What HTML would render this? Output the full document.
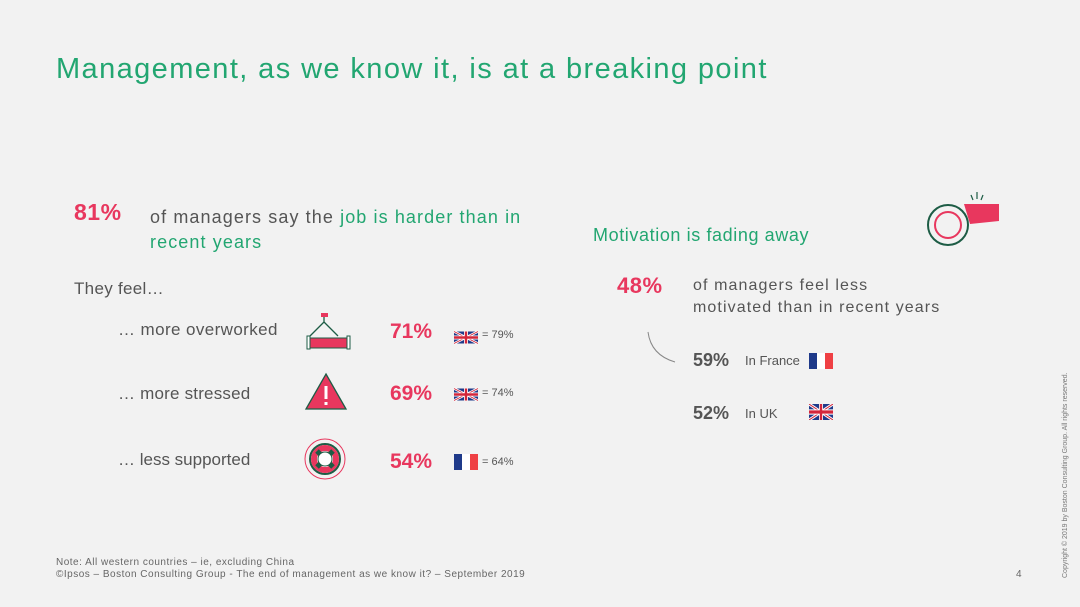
<!DOCTYPE html>
<html><head><meta charset="utf-8"><style>
body{margin:0;background:#f2f2f2;}
#s{position:relative;width:1080px;height:607px;overflow:hidden;background:#f2f2f2;font-family:"Liberation Sans",sans-serif;color:#555;}
.a{position:absolute;white-space:nowrap;}
.g{color:#22a671}.r{color:#e8375e;font-weight:bold}
</style></head><body>
<div id="s">
<div class="a g" style="left:56px;top:53px;font-size:29px;letter-spacing:1.4px;">Management, as we know it, is at a breaking point</div>

<div class="a r" style="left:74px;top:199px;font-size:23px;letter-spacing:0.5px;">81%</div>
<div class="a" style="left:150px;top:205px;font-size:18px;line-height:25px;letter-spacing:1.1px;">of managers say the <span class="g">job is harder than in</span><br><span class="g">recent years</span></div>
<div class="a" style="left:74px;top:279px;font-size:17px;letter-spacing:0.3px;">They feel…</div>

<div class="a" style="left:118px;top:320px;font-size:17px;letter-spacing:0.4px;">… more overworked</div>
<div class="a" style="left:118px;top:384px;font-size:17px;letter-spacing:0.2px;">… more stressed</div>
<div class="a" style="left:118px;top:450px;font-size:17px;">… less supported</div>

<svg class="a" style="left:305px;top:312px" width="48" height="40" viewBox="0 0 48 40">
<rect x="16" y="1" width="7" height="4" fill="#e8375e"/><path d="M19 5 L19 10 M19 10 L5 24 M19 10 L33 24" stroke="#1d5c45" stroke-width="1.3" fill="none"/>
<rect x="2" y="24" width="3" height="13" fill="#fff" stroke="#1d5c45"/><rect x="42" y="24" width="3" height="13" fill="#fff" stroke="#1d5c45"/>
<rect x="5" y="26" width="37" height="10" fill="#e8375e" stroke="#1d5c45"/></svg>
<svg class="a" style="left:304px;top:372px" width="44" height="38" viewBox="0 0 44 38">
<path d="M22 2 L42 37 L2 37 Z" fill="#e8375e" stroke="#1d5c45" stroke-width="1.3"/><rect x="20.5" y="14" width="3" height="13" fill="#fff"/><rect x="20.5" y="30" width="3" height="3" fill="#fff"/></svg>
<svg class="a" style="left:303px;top:437px" width="44" height="44" viewBox="0 0 44 44">
<circle cx="22" cy="22" r="20" fill="none" stroke="#e8375e" stroke-width="1"/><circle cx="22" cy="22" r="15" fill="#fff" stroke="#1d5c45" stroke-width="2"/>
<circle cx="22" cy="22" r="11" fill="none" stroke="#e8375e" stroke-width="6"/>
<path d="M14 14 L18 18 M30 14 L26 18 M14 30 L18 26 M30 30 L26 26" stroke="#1d5c45" stroke-width="5"/><circle cx="22" cy="22" r="7" fill="#fff" stroke="#1d5c45"/></svg>

<div class="a r" style="left:390px;top:320px;font-size:21px;">71%</div>
<div class="a r" style="left:390px;top:382px;font-size:21px;">69%</div>
<div class="a r" style="left:390px;top:450px;font-size:21px;">54%</div>

<svg class="a" style="left:454px;top:330px" width="24" height="15" viewBox="0 0 60 30"><rect width="60" height="30" fill="#1f3a8a"/><path d="M0 0L60 30M60 0L0 30" stroke="#fff" stroke-width="6"/><path d="M0 0L60 30M60 0L0 30" stroke="#d3263b" stroke-width="2"/><path d="M30 0V30M0 15H60" stroke="#fff" stroke-width="10"/><path d="M30 0V30M0 15H60" stroke="#d3263b" stroke-width="6"/></svg>
<div class="a" style="left:482px;top:329px;font-size:11px;">= 79%</div>
<svg class="a" style="left:454px;top:387px" width="24" height="15" viewBox="0 0 60 30"><rect width="60" height="30" fill="#1f3a8a"/><path d="M0 0L60 30M60 0L0 30" stroke="#fff" stroke-width="6"/><path d="M0 0L60 30M60 0L0 30" stroke="#d3263b" stroke-width="2"/><path d="M30 0V30M0 15H60" stroke="#fff" stroke-width="10"/><path d="M30 0V30M0 15H60" stroke="#d3263b" stroke-width="6"/></svg>
<div class="a" style="left:482px;top:387px;font-size:11px;">= 74%</div>
<svg class="a" style="left:454px;top:454px" width="24" height="16"><rect width="8" height="16" fill="#1f3a8a"/><rect x="8" width="8" height="16" fill="#fff"/><rect x="16" width="8" height="16" fill="#ef4044"/></svg>
<div class="a" style="left:482px;top:456px;font-size:11px;">= 64%</div>

<div class="a g" style="left:593px;top:225px;font-size:18px;letter-spacing:0.6px;">Motivation is fading away</div>
<svg class="a" style="left:925px;top:191px" width="76" height="56" viewBox="0 0 76 56">
<path d="M39 13 L74 13 L74 30 L45 33 Z" fill="#e8375e"/><circle cx="23" cy="34" r="20" fill="#f2f2f2" stroke="#1d5c45" stroke-width="2"/><circle cx="23" cy="34" r="13" fill="none" stroke="#e8375e" stroke-width="2"/>
<path d="M46 4 L48 9 M52 1 L52 8 M58 4 L56 9" stroke="#1d5c45" stroke-width="1.2"/></svg>
<div class="a r" style="left:617px;top:273px;font-size:22px;letter-spacing:0.5px;">48%</div>
<div class="a" style="left:693px;top:275px;font-size:16px;line-height:22px;letter-spacing:1.1px;">of managers feel less<br>motivated than in recent years</div>
<svg class="a" style="left:645px;top:330px" width="35" height="35"><path d="M3 2 Q6 25 30 32" fill="none" stroke="#888" stroke-width="1"/></svg>
<div class="a" style="left:693px;top:350px;font-size:18px;font-weight:bold;color:#555;">59%</div>
<div class="a" style="left:745px;top:353px;font-size:13px;">In France</div>
<svg class="a" style="left:809px;top:353px" width="24" height="16"><rect width="8" height="16" fill="#1f3a8a"/><rect x="8" width="8" height="16" fill="#fff"/><rect x="16" width="8" height="16" fill="#ef4044"/></svg>
<div class="a" style="left:693px;top:403px;font-size:18px;font-weight:bold;color:#555;">52%</div>
<div class="a" style="left:745px;top:406px;font-size:13px;">In UK</div>
<svg class="a" style="left:809px;top:404px" width="24" height="16" viewBox="0 0 60 30" preserveAspectRatio="none"><rect width="60" height="30" fill="#1f3a8a"/><path d="M0 0L60 30M60 0L0 30" stroke="#fff" stroke-width="6"/><path d="M0 0L60 30M60 0L0 30" stroke="#d3263b" stroke-width="2"/><path d="M30 0V30M0 15H60" stroke="#fff" stroke-width="10"/><path d="M30 0V30M0 15H60" stroke="#d3263b" stroke-width="6"/></svg>

<div class="a" style="left:56px;top:557px;font-size:10px;line-height:12px;color:#666;letter-spacing:0.5px;">Note: All western countries – ie, excluding China<br>©Ipsos – Boston Consulting Group - The end of management as we know it? – September 2019</div>
<div class="a" style="left:1016px;top:569px;font-size:10px;color:#666;">4</div>
<div class="a" style="left:1062px;top:578px;font-size:7px;color:#777;transform:rotate(-90deg);transform-origin:0 0;">Copyright © 2019 by Boston Consulting Group. All rights reserved.</div>
</div>
</body></html>
